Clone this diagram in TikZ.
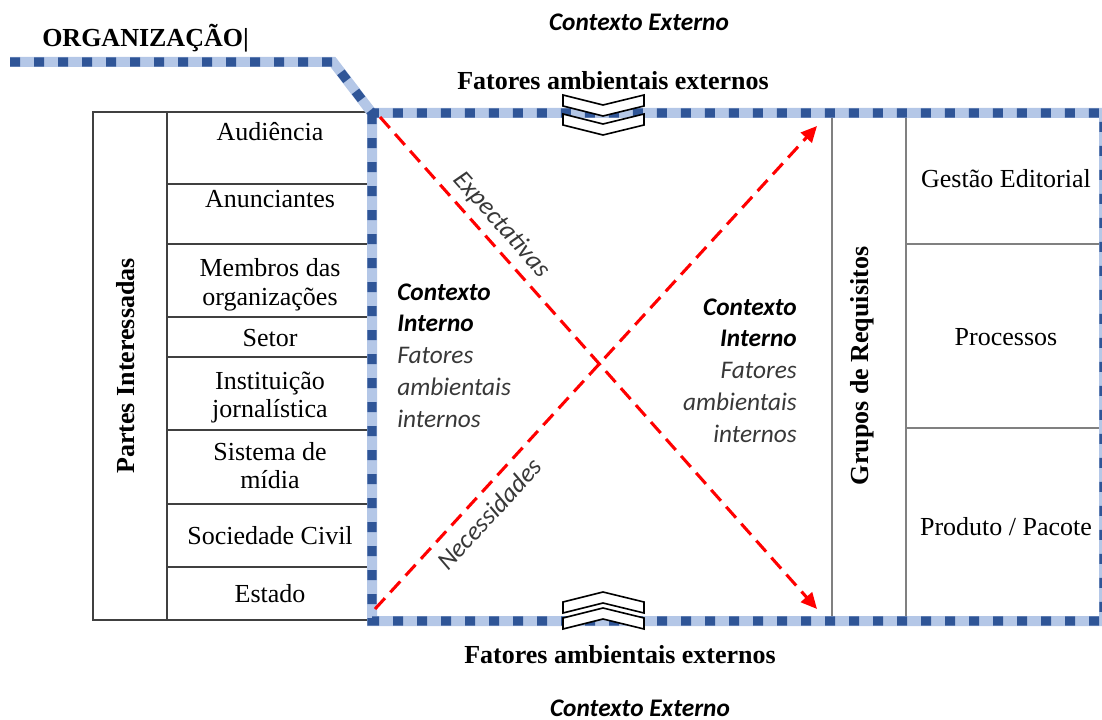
\documentclass[tikz,border=0pt]{standalone}
\usepackage{fontspec}
\setmainfont{Liberation Serif}
\newfontfamily\calibri{Carlito}
\usepackage{tikz}
\usetikzlibrary{positioning,arrows.meta}
\definecolor{orglight}{HTML}{B4C7E7}
\definecolor{orgdark}{HTML}{2F5597}
\tikzset{
  orgline/.style={line width=7.5pt, orglight},
  orgdots/.style={line width=7pt, orgdark, dash pattern=on 7.5pt off 10.5pt},
  tabline/.style={line width=1.1pt, black!75},
  reqline/.style={line width=1.7pt, black!50},
  cell/.style={align=center, anchor=base, inner sep=0pt, font=\fontsize{19.5}{21}\selectfont},
  title/.style={anchor=base, inner sep=0pt, font=\bfseries\fontsize{19.5}{21}\selectfont},
  ctx/.style={inner sep=0pt, text=black!78, font=\calibri\itshape\fontsize{19}{23.8}\selectfont},
  redarrow/.style={red, line width=2.3pt, dash pattern=on 11pt off 6pt, -{Triangle[length=12pt,width=11pt]}},
  chevron/.style={draw=black, fill=white, line width=1.2pt, line join=miter}
}

\begin{document}
\begin{tikzpicture}[x=0.75pt, y=-0.75pt]
       \useasboundingbox (0,0) rectangle (1102,720);
       \draw[tabline] (372,112) -- (93,112) -- (93,620) -- (372,620);
       \draw[tabline] (167,112) -- (167,620);
       \foreach \y in {184,244,317,357,430,504,567}
           \draw[tabline] (167,\y) -- (372,\y);
       \draw[reqline] (832,113) -- (832,621);
       \draw[reqline] (906,113) -- (906,621);
       \foreach \y in {244,428}
           \draw[reqline] (906,\y) -- (1104,\y);
       \coordinate (orgstart) at (10,62);
       \coordinate (orgbend) at (333,62);
       \coordinate (ctxtl) at (372,113);
       \coordinate (ctxtr) at (1104,113);
       \coordinate (ctxbr) at (1104,621);
       \coordinate (ctxbl) at (372,621);
       \draw[orgline] (orgstart) -- (orgbend) -- (ctxtl) -- (ctxtr) -- (ctxbr) -- (ctxbl) -- (ctxtl);
       \draw[orgdots] (orgstart) -- (orgbend) -- (ctxtl) -- (ctxtr) -- (ctxbr) -- (ctxbl) -- (ctxtl);
       \foreach \y in {95,114}
           \draw[chevron] (563,\y) -- (603,\y+10) -- (644,\y) -- (644,\y+11)
           -- (603,\y+21) -- (563,\y+11) -- cycle;
       \foreach \y in {608,592}
           \draw[chevron] (563,\y+10) -- (603,\y) -- (644,\y+10) -- (644,\y+21)
           -- (603,\y+11) -- (563,\y+21) -- cycle;
       \node[title, anchor=base west] (org) at (42,47) {ORGANIZAÇÃO|};
       \node[ctx, anchor=base, font=\calibri\bfseries\itshape\fontsize{19}{23}\selectfont, text=black] (extop) at (639,31) {Contexto Externo};
       \node[ctx, anchor=base, font=\calibri\bfseries\itshape\fontsize{19}{23}\selectfont, text=black] (exbot) at (640,716) {Contexto Externo};
       \node[title] (fatop) at (613,90) {Fatores ambientais externos};
       \node[title] (fabot) at (620,663) {Fatores ambientais externos};
       \node[title, anchor=center, rotate=90] (partes) at (126,366) {Partes Interessadas};
       \node[cell] (aud) at (270,141) {Audiência};
       \node[cell] (anu) at (270,208) {Anunciantes};
       \node[cell] (mem) at (270,305) {Membros das\\organizações};
       \node[cell] (set) at (270,346) {Setor};
       \node[cell] (ins) at (270,417) {Instituição\\jornalística};
       \node[cell] (sis) at (270,488) {Sistema de\\mídia};
       \node[cell] (soc) at (270,544) {Sociedade Civil};
       \node[cell] (est) at (270,602) {Estado};
       \node[title, anchor=center, rotate=90] (grupos) at (862,366) {Grupos de Requisitos};
       \node[cell] (ges) at (1006,188) {Gestão Editorial};
       \node[cell] (pro) at (1006,345) {Processos};
       \node[cell] (pac) at (1006,535) {Produto / Pacote};
       \node[ctx, anchor=base west, align=left] (intleft) at (397,427)
           {\textcolor{black}{\textbf{Contexto}}\\\textcolor{black}{\textbf{Interno}}\\Fatores\\ambientais\\internos};
       \node[ctx, anchor=base east, align=right] (intright) at (797,442)
           {\textcolor{black}{\textbf{Contexto}}\\\textcolor{black}{\textbf{Interno}}\\Fatores\\ambientais\\internos};
       \coordinate (xtl) at (380,117);
       \coordinate (xbr) at (817,609);
       \coordinate (xbl) at (375,609);
       \coordinate (xtr) at (817,126);
       \draw[redarrow] (xtl) -- node[ctx, sloped, above=5pt, pos=0.245, font=\calibri\itshape\fontsize{19.5}{23}\selectfont] (expect) {Expectativas} (xbr);
       \draw[redarrow] (xbl) -- node[ctx, sloped, below=7pt, pos=0.225, font=\calibri\itshape\fontsize{19.5}{23}\selectfont] (necess) {Necessidades} (xtr);
\end{tikzpicture}
\end{document}
